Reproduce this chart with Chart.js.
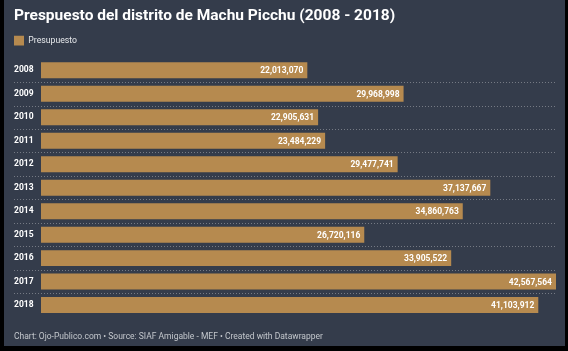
<!DOCTYPE html>
<html>
<head>
<meta charset="utf-8">
<script src="https://cdn.jsdelivr.net/npm/chart.js@4"></script>
<style>
  html, body { margin: 0; padding: 0; background: #000; }
  #wrap { position: absolute; left: 4px; top: 0; width: 561px; height: 346px; background: #343c4b; }
</style>
</head>
<body>
<div id="wrap"><canvas id="chart" width="561" height="346"></canvas></div>
<script>
// Budget per year (soles)
const years = ['2008', '2009', '2010', '2011', '2012', '2013', '2014', '2015', '2016', '2017', '2018'];
const budget = [22013070, 29968998, 22905631, 23484229, 29477741, 37137667, 34860763, 26720116, 33905522, 42567564, 41103912];
const seriesName = 'Presupuesto';

// a bit of room under the legend
const legendGap = {
    id: 'legendGap',
    beforeInit(chart) {
        const fit = chart.legend.fit;
        chart.legend.fit = function() {
            fit.bind(chart.legend)();
            this.height += 3;
        };
    }
};

// dotted separators between rows, running under the year labels too
const rowLines = {
    id: 'rowLines',
    beforeDatasetsDraw(chart) {
        const ctx = chart.ctx;
        const y = chart.scales.y;
        const area = chart.chartArea;
        ctx.save();
        ctx.strokeStyle = 'rgba(255,255,255,0.32)';
        ctx.lineWidth = 1;
        ctx.setLineDash([1, 2]);
        for (let i = 1; i < years.length; i++) {
            const py = Math.round((y.getPixelForValue(i - 1) + y.getPixelForValue(i)) / 2) + 0.5;
            ctx.beginPath();
            ctx.moveTo(10, py);
            ctx.lineTo(area.right, py);
            ctx.stroke();
        }
        ctx.restore();
    }
};

// draws the number inside the end of each bar
const valueLabels = {
    id: 'valueLabels',
    afterDatasetsDraw(chart) {
        const ctx = chart.ctx;
        const meta = chart.getDatasetMeta(0);
        ctx.save();
        ctx.font = 'bold 8.5px Roboto';
        ctx.fillStyle = '#ffffff';
        ctx.textAlign = 'right';
        ctx.textBaseline = 'middle';
        meta.data.forEach(function(bar, i) {
            ctx.fillText(budget[i].toLocaleString('en-US'), bar.x - 4, bar.y + 1);
        });
        ctx.restore();
    }
};

const ctx = document.getElementById('chart').getContext('2d');
new Chart(ctx, {
    type: 'bar',
    data: {
        labels: years,
        datasets: [{
            label: seriesName,
            data: budget,
            backgroundColor: '#b68a4f',
            barPercentage: 0.68,
            categoryPercentage: 1
        }]
    },
    plugins: [legendGap, rowLines, valueLabels],
    options: {
        indexAxis: 'y',
        responsive: false,
        animation: false,
        layout: { padding: { left: 10, right: 9, top: 2, bottom: 0 } },
        plugins: {
            title: {
                display: true,
                text: 'Prespuesto del distrito de Machu Picchu (2008 - 2018)',
                align: 'start',
                color: '#ffffff',
                font: { family: 'Roboto', size: 15.5, weight: 'bold' },
                padding: { top: 5, bottom: 10 }
            },
            legend: {
                display: true,
                align: 'start',
                labels: {
                    color: '#e6e8eb',
                    font: { family: 'Roboto', size: 8.7 },
                    boxWidth: 10,
                    boxHeight: 10,
                    padding: 0
                }
            },
            subtitle: {
                display: true,
                position: 'bottom',
                align: 'start',
                text: 'Chart: Ojo-Publico.com \u2022 Source: SIAF Amigable - MEF \u2022 Created with Datawrapper',
                color: '#c3c7cc',
                font: { family: 'Roboto', size: 8.5 },
                padding: { top: 15, bottom: 4 }
            },
            tooltip: { enabled: false }
        },
        scales: {
            x: {
                display: false,
                min: 0,
                max: 42567564
            },
            y: {
                border: { display: false },
                grid: { display: false, drawTicks: false },
                ticks: {
                    color: '#ffffff',
                    font: { family: 'Roboto', size: 8.5, weight: 'bold' },
                    crossAlign: 'far',
                    padding: 7
                },
                afterFit: function(scale) {
                    scale.width = 27;
                }
            }
        }
    }
});
</script>
</body>
</html>
